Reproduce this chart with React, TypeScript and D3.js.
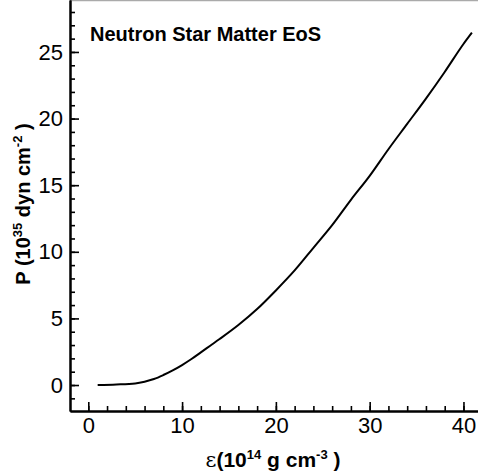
import React, { useEffect, useRef } from 'react';
import * as d3 from 'd3';

// energy density (10^14 g cm^-3) and pressure (10^35 dyn cm^-2)
const energyDensity = [1, 3, 5, 6, 7, 8, 9, 10, 11, 12, 13, 14, 16, 18, 20, 22, 24, 26, 28, 30, 32, 34, 36, 38, 40, 40.9];
const pressure = [0, 0.04, 0.12, 0.25, 0.45, 0.75, 1.1, 1.5, 1.95, 2.45, 2.95, 3.45, 4.5, 5.7, 7.1, 8.6, 10.3, 12.0, 13.9, 15.7, 17.7, 19.6, 21.5, 23.5, 25.6, 26.45];

const xMajorTicks = [0, 10, 20, 30, 40];
const xMinorTicks = d3.range(0, 42, 2);
const yMajorTicks = [0, 5, 10, 15, 20, 25];
const yMinorTicks = d3.range(-1, 29, 1);

const W = 478;
const H = 476;
const FONT = '"Liberation Sans", Arial, Helvetica, sans-serif';

const App = () => {
  const xAxisRef = useRef<SVGGElement>(null);
  const yAxisRef = useRef<SVGGElement>(null);

  const x = d3.scaleLinear().domain([-1.95, 41.55]).range([70, W]);
  const y = d3.scaleLinear().domain([-1.95, 28.9]).range([411, 0]);

  const points = energyDensity.map((e, i) => [e, pressure[i]] as [number, number]);
  const line = d3.line<[number, number]>()
    .x((d) => x(d[0]))
    .y((d) => y(d[1]))
    .curve(d3.curveMonotoneX);

  useEffect(() => {
    const gx = d3.select(xAxisRef.current);
    gx.selectAll('*').remove();
    // minor ticks
    gx.append('g').call(
      d3.axisBottom(x).tickValues(xMinorTicks).tickSize(-5).tickSizeOuter(0).tickFormat(() => '')
    );
    gx.append('g').call(
      d3.axisBottom(x).tickValues(xMajorTicks).tickSize(-9).tickSizeOuter(0).tickPadding(6)
        .tickFormat((d) => String(d))
    );

    const gy = d3.select(yAxisRef.current);
    gy.selectAll('*').remove();
    gy.append('g').call(
      d3.axisLeft(y).tickValues(yMinorTicks).tickSize(-5).tickSizeOuter(0).tickFormat(() => '')
    );
    gy.append('g').call(
      d3.axisLeft(y).tickValues(yMajorTicks).tickSize(-9).tickSizeOuter(0).tickPadding(7)
        .tickFormat((d) => String(d))
    );

    [gx, gy].forEach((g) => {
      g.selectAll('.domain').attr('stroke', '#000').attr('stroke-width', 2);
      g.selectAll('.tick line').attr('stroke', '#000').attr('stroke-width', 1.6);
      g.selectAll('.tick text')
        .attr('fill', '#000')
        .style('font-family', FONT)
        .style('font-size', '22px');
    });
  }, []);

  return (
    <svg
      width={W}
      height={H}
      style={{ position: 'absolute', left: 0, top: 0, background: '#fff' }}
      fontFamily={FONT}
    >
      <line x1={70} x2={W} y1={0.5} y2={0.5} stroke="#aaa" strokeWidth={1.5} />
      <path d={line(points) ?? ''} fill="none" stroke="#000" strokeWidth={2} />
      <g ref={xAxisRef} transform={`translate(0,${y(-1.95)})`} />
      <g ref={yAxisRef} transform={`translate(${x(-1.95)},0)`} />

      <text x={90} y={41} fontSize={20} fontWeight="bold" fill="#000">
        Neutron Star Matter EoS
      </text>

      <text
        transform="translate(30,204) rotate(-90)"
        textAnchor="middle"
        fontSize={20}
        fontWeight="bold"
        fill="#000"
      >
        <tspan>P (10</tspan>
        <tspan dy={-8} fontSize={13}>35</tspan>
        <tspan dy={8}> dyn cm</tspan>
        <tspan dy={-8} fontSize={13}>-2</tspan>
        <tspan dy={8}> )</tspan>
      </text>

      <text x={273} y={467} textAnchor="middle" fontSize={21} fontWeight="bold" fill="#000">
        <tspan fontWeight="normal" fontFamily='"DejaVu Serif", serif'>ε</tspan>
        <tspan>(10</tspan>
        <tspan dy={-8} fontSize={13}>14</tspan>
        <tspan dy={8}> g cm</tspan>
        <tspan dy={-8} fontSize={13}>-3</tspan>
        <tspan dy={8}> )</tspan>
      </text>
    </svg>
  );
};

export default App;
